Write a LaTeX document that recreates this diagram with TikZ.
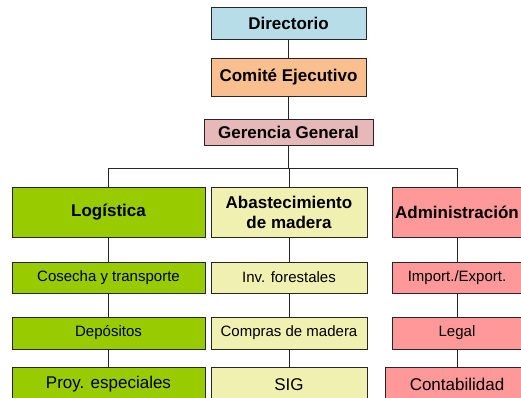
\documentclass[tikz,border=0pt]{standalone}
\usepackage{fontspec}
\setmainfont{Liberation Sans}
\definecolor{cdir}{HTML}{B7DEE8}
\definecolor{ccom}{HTML}{FABF8F}
\definecolor{cger}{HTML}{E6B9B8}
\definecolor{cgreen}{HTML}{99CC00}
\definecolor{cyel}{HTML}{F0F0B0}
\definecolor{cpink}{HTML}{FF9999}
\begin{document}
\begin{tikzpicture}[x=1pt,y=-1pt,
  box/.style={draw=black!85,line width=0.8pt,rectangle,inner sep=0pt,outer sep=0pt,align=center,text=black},
  head/.style={box,font=\fontsize{17}{20}\selectfont\bfseries},
  sub/.style={box,font=\fontsize{15}{18}\selectfont},
  low/.style={box,font=\fontsize{17}{20}\selectfont},
  conn/.style={draw=black!85,line width=0.8pt}]
\useasboundingbox (0,0) rectangle (521,397);
% top chain
\node[head,fill=cdir,minimum width=155pt,minimum height=32pt] (dir) at (288.5,23) {Directorio};
\node[head,fill=ccom,minimum width=155pt,minimum height=38pt] (com) at (288.5,77) {Comité Ejecutivo};
\node[head,fill=cger,minimum width=169pt,minimum height=26pt] (ger) at (288.5,132) {Gerencia General};
% level 2
\node[head,fill=cgreen,minimum width=193pt,minimum height=50pt] (log) at (108.5,212) {Logística};
\node[head,fill=cyel,minimum width=156pt,minimum height=50pt] (aba) at (289,212) {Abastecimiento\\de madera};
\node[head,fill=cpink,minimum width=130pt,minimum height=50pt] (adm) at (457,212) {Administración};
% level 3
\node[sub,fill=cgreen,minimum width=193pt,minimum height=31pt] (cos) at (108.5,277.5) {Cosecha y transporte};
\node[sub,fill=cyel,minimum width=156pt,minimum height=31pt] (inv) at (289,277.5) {Inv. forestales};
\node[sub,fill=cpink,minimum width=130pt,minimum height=31pt] (imp) at (457,277.5) {Import./Export.};
% level 4
\node[sub,fill=cgreen,minimum width=193pt,minimum height=32pt] (dep) at (108.5,333) {Depósitos};
\node[sub,fill=cyel,minimum width=156pt,minimum height=32pt] (cmp) at (289,333) {Compras de madera};
\node[sub,fill=cpink,minimum width=130pt,minimum height=32pt] (leg) at (457,333) {Legal};
% level 5
\node[low,fill=cgreen,minimum width=193pt,minimum height=35pt] (proy) at (108.5,384.5) {Proy. especiales};
\node[low,fill=cyel,minimum width=156pt,minimum height=35pt] (sig) at (289,384.5) {SIG};
\node[low,fill=cpink,minimum width=144pt,minimum height=35pt] (cont) at (457,384.5) {Contabilidad};
% connectors
\coordinate (bus) at (288.5,168);
\draw[conn] (dir) -- (com);
\draw[conn] (com) -- (ger);
\draw[conn] (ger) -- (bus);
\draw[conn] (log.north) -- (log.north |- bus) -- (adm.north |- bus) -- (adm.north);
\draw[conn] (aba.north) -- (aba.north |- bus);
\draw[conn] (log) -- (cos);
\draw[conn] (cos) -- (dep);
\draw[conn] (dep) -- (proy);
\draw[conn] (aba) -- (inv);
\draw[conn] (inv) -- (cmp);
\draw[conn] (cmp) -- (sig);
\draw[conn] (adm) -- (imp);
\draw[conn] (imp) -- (leg);
\draw[conn] (leg) -- (cont);
\end{tikzpicture}
\end{document}
